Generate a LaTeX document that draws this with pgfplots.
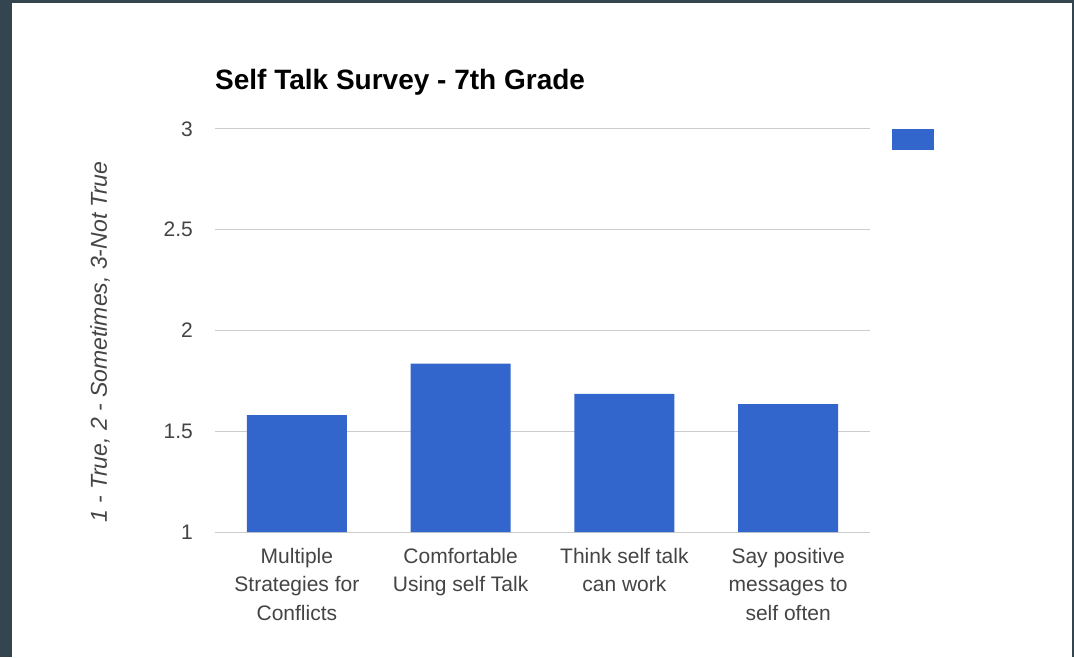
\documentclass[border=0pt]{standalone}
\usepackage{pgfplots}
\pgfplotsset{compat=1.18}
\usepackage{fontspec}
\setmainfont{Liberation Sans}
\definecolor{barblue}{HTML}{3366CC}
\definecolor{framecol}{HTML}{34454F}
\definecolor{gridgray}{HTML}{CCCCCC}
\definecolor{labelgray}{HTML}{444444}
\begin{document}
\begin{tikzpicture}
\path[use as bounding box, fill=framecol] (0,0) rectangle (1074pt,657pt);
\fill[white] (12pt,0) rectangle (1072pt,654pt);
\begin{axis}[
  at={(215pt,125pt)}, anchor=south west,
  scale only axis, width=655pt, height=403pt,
  xmin=-0.5, xmax=3.5, ymin=1, ymax=3,
  ytick={1,1.5,2,2.5,3},
  yticklabels={1,1.5,2,2.5,3},
  xtick={0,1,2,3},
  xticklabels={{Multiple\\Strategies for\\Conflicts},{Comfortable\\Using self Talk},{Think self talk\\can work},{Say positive\\messages to\\self often}},
  axis line style={draw=none},
  ymajorgrids, grid style={gridgray, line width=1pt},
  major tick length=0pt,
  tick label style={font=\fontsize{21}{28.5}\selectfont, text=labelgray, inner sep=0pt},
  xticklabel style={align=center, anchor=north, yshift=-16pt},
  yticklabel style={anchor=east, xshift=-22pt},
  /pgf/number format/assume math mode=true,
  title={Self Talk Survey - 7th Grade},
  title style={font=\bfseries\fontsize{28}{33}\selectfont, at={(axis description cs:0,1)}, anchor=base west, yshift=33pt, inner sep=0pt},
  ylabel={1 - True, 2 - Sometimes, 3-Not True},
  every axis y label/.style={at={(axis description cs:-0.1756,0.4715)}, rotate=90, anchor=center, font=\itshape\fontsize{23}{27}\selectfont, text=labelgray},
  legend style={draw=none, fill=none, at={(axis description cs:1.0336,1)}, anchor=north west, inner sep=0pt, outer sep=0pt, nodes={inner sep=0pt}, column sep=0pt},
  legend image code/.code={\fill[barblue] (0pt,-10.5pt) rectangle (42pt,10.5pt);},
]
\addplot[ybar, bar width=100pt, fill=barblue, draw=none] coordinates {(0,1.58) (1,1.835) (2,1.685) (3,1.635)};
\addlegendentry{}
\end{axis}
\end{tikzpicture}
\end{document}
